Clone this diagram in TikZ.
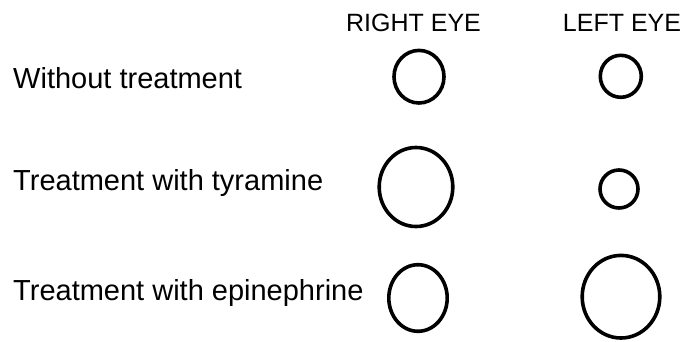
\documentclass[tikz,border=0pt]{standalone}
\usepackage{fontspec}
\setmainfont{Liberation Sans}
\usetikzlibrary{shapes.geometric}

\begin{document}
\begin{tikzpicture}[
  x=1pt, y=-1pt,
  pupil/.style={ellipse, draw, line width=3.6pt, inner sep=0pt},
  head/.style={anchor=base, inner sep=0pt, font=\fontsize{25}{28}\selectfont},
  cond/.style={anchor=base west, inner sep=0pt, font=\fontsize{29}{32}\selectfont}
]
  \useasboundingbox (0,0) rectangle (685,341);

  \node[head] (hr) at (413.5, 31) {RIGHT EYE};
  \node[head] (hl) at (622, 31) {LEFT EYE};

  \node[cond] (c1) at (13, 88) {Without treatment};
  \node[cond] (c2) at (13, 190) {Treatment with tyramine};
  \node[cond] (c3) at (13, 300) {Treatment with epinephrine};

  % right eye
  \node[pupil, minimum width=50pt, minimum height=52.6pt] (r1) at (419, 76.7) {};
  \node[pupil, minimum width=73.6pt, minimum height=79pt] (r2) at (416, 187) {};
  \node[pupil, minimum width=58.4pt, minimum height=66.6pt] (r3) at (418, 298) {};

  % left eye
  \node[pupil, minimum width=41pt, minimum height=42pt] (l1) at (620.8, 76.3) {};
  \node[pupil, minimum width=38pt, minimum height=38pt] (l2) at (619, 189) {};
  \node[pupil, minimum width=77.6pt, minimum height=82.6pt] (l3) at (621, 296.7) {};
\end{tikzpicture}
\end{document}
